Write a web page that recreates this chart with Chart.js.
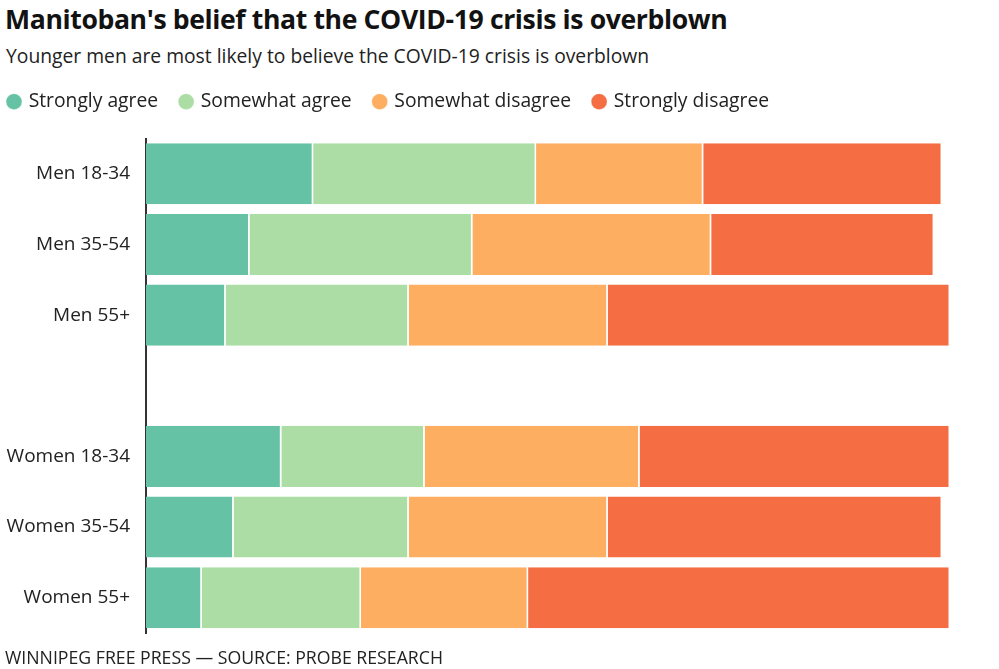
<!DOCTYPE html>
<html>
<head>
<meta charset="utf-8">
<script src="https://cdn.jsdelivr.net/npm/chart.js@4/dist/chart.umd.min.js"></script>
<style>
  html, body { margin: 0; padding: 0; background: #fff; width: 999px; height: 669px; overflow: hidden; font-family: "Open Sans", sans-serif; }
  #title { position: absolute; left: 5px; top: 1px; font-size: 26.6px; font-weight: 700; color: #121212; letter-spacing: -0.38px; white-space: nowrap; }
  #subtitle { position: absolute; left: 6px; top: 42px; font-size: 19.3px; color: #222; white-space: nowrap; }
  #footer { position: absolute; left: 5px; top: 645px; font-size: 17.7px; color: #222; white-space: nowrap; }
  #wrap { position: absolute; left: -14px; top: 69px; width: 1013px; height: 600px; }
</style>
</head>
<body>
<div id="title">Manitoban's belief that the COVID-19 crisis is overblown</div>
<div id="subtitle">Younger men are most likely to believe the COVID-19 crisis is overblown</div>
<div id="wrap"><canvas id="c"></canvas></div>
<div id="footer">WINNIPEG FREE PRESS — SOURCE: PROBE RESEARCH</div>
<script>
const categories = ["Men 18-34", "Men 35-54", "Men 55+", "", "Women 18-34", "Women 35-54", "Women 55+"];
const stronglyAgree    = [21, 13, 10, null, 17, 11, 7];
const somewhatAgree    = [28, 28, 23, null, 18, 22, 20];
const somewhatDisagree = [21, 30, 25, null, 27, 25, 21];
const stronglyDisagree = [30, 28, 43, null, 39, 42, 53];
const seriesNames = ["Strongly agree", "Somewhat agree", "Somewhat disagree", "Strongly disagree"];
const colors = ["#66c2a5", "#abdda4", "#fdae61", "#f46d43"];
const seriesData = [stronglyAgree, somewhatAgree, somewhatDisagree, stronglyDisagree];

Chart.defaults.font.family = '"Open Sans", sans-serif';
Chart.defaults.color = '#222';

new Chart(document.getElementById('c'), {
  type: 'bar',
  data: {
    labels: categories,
    datasets: seriesData.map((d, i) => ({
      label: seriesNames[i],
      data: d,
      backgroundColor: colors[i],
      borderColor: '#ffffff',
      borderWidth: {left: 0, right: 1.5, top: 0, bottom: 0},
      borderSkipped: false,
      categoryPercentage: 1,
      barPercentage: 0.865
    }))
  },
  options: {
    indexAxis: 'y',
    responsive: true,
    maintainAspectRatio: false,
    animation: false,
    layout: { padding: { left: 0, right: 49, top: 0, bottom: 36 } },
    plugins: {
      legend: {
        position: 'top',
        align: 'start',
        labels: {
          usePointStyle: true,
          pointStyle: 'circle',
          boxWidth: 10,
          boxHeight: 11.3,
          padding: 23,
          font: { size: 19.3 },
          color: '#222'
        }
      },
      title: {
        display: true,
        text: ' ',
        weight: 500,
        font: { size: 1 },
        padding: { top: 0, bottom: 16 }
      },
      tooltip: { enabled: false }
    },
    scales: {
      x: {
        stacked: true,
        min: 0,
        max: 101,
        display: false
      },
      y: {
        stacked: true,
        grid: { display: false, drawTicks: false },
        border: { display: true, color: '#333', width: 2 },
        ticks: { font: { size: 19 }, color: '#222', padding: 16 },
        afterFit: (s) => { s.width = 160; }
      }
    }
  }
});
</script>
</body>
</html>
